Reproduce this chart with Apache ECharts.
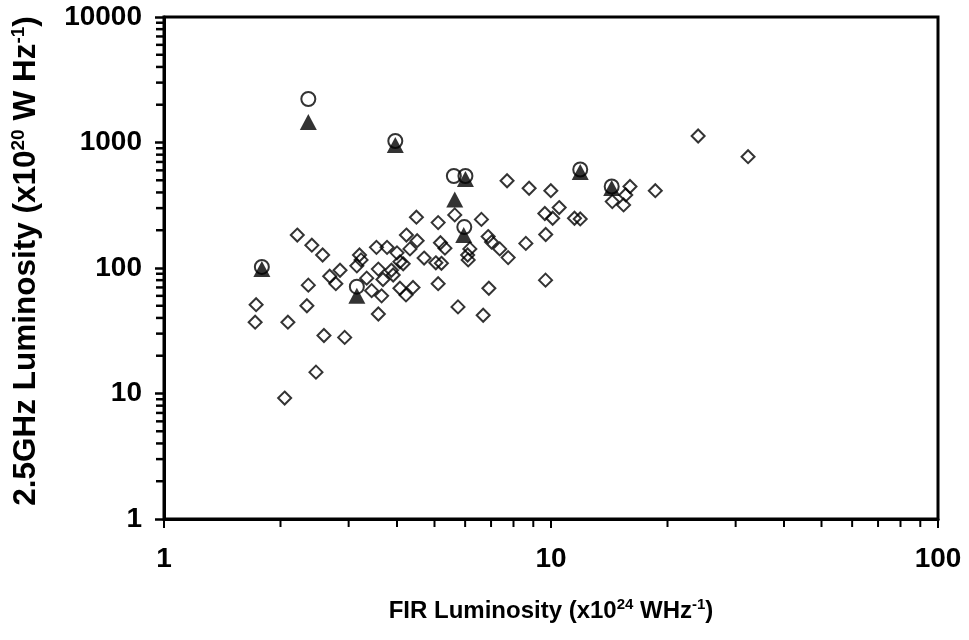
<!DOCTYPE html>
<html>
<head>
<meta charset="utf-8">
<script src="https://cdn.jsdelivr.net/npm/echarts@6/dist/echarts.min.js"></script>
<style>html,body{margin:0;padding:0;background:#fff;}#chart{width:969px;height:640px;}</style>
</head>
<body>
<div id="chart"></div>
<script>
// FIR luminosity (x10^24 W/Hz) and 2.5GHz luminosity (x10^20 W/Hz)
var diamondX = [2.21,2.41,2.57,2.68,2.85,2.78,2.36,1.73,2.34,1.72,2.09,2.59,2.93,2.47,2.05,
  3.15,3.20,3.23,3.34,3.44,3.54,3.58,3.58,3.65,3.68,3.77,3.87,3.91,4.00,4.07,4.15,4.07,4.22,4.23,4.32,4.40,
  4.49,4.51,4.70,5.04,5.11,5.11,5.18,5.21,5.32,5.64,5.75,6.09,6.11,6.17,6.61,6.68,6.91,6.88,7.02,7.37,7.75,
  7.70,8.61,8.78,9.64,9.69,9.68,9.99,10.1,10.5,11.5,11.9,14.4,15.4,15.6,16.0,18.6,24.0,32.3];
var diamondY = [183,152,127,86,96,75,73,51,50,37,37,29,28,14.8,9.2,
  104,127,116,83,66,146,98,43,60,81,146,96,88,132,112,108,69,61,183,142,70,
  254,165,120,110,230,75,159,109,144,265,49,127,116,142,244,42,69,178,161,142,121,
  496,157,432,272,185,80,413,249,303,249,246,338,318,382,446,413,1127,771];
var circleX = [1.79,2.36,3.96,3.15,5.61,6.01,5.97,11.9,14.35];
var circleY = [102,2221,1028,71,541,541,212,609,446];
var triangleX = [1.79,2.36,3.96,3.15,5.64,6.01,5.95,11.9,14.35];
var triangleY = [98,1457,955,60,351,512,183,582,434];
var xMajorTicks = [1,10,100];
var yMajorTicks = [1,10,100,1000,10000];

function zip(a,b){ return a.map(function(v,i){ return [v,b[i]]; }); }
function minorValues(majors){
  var out=[];
  for(var i=0;i<majors.length-1;i++){ for(var k=2;k<=9;k++){ out.push(majors[i]*k); } }
  return out;
}
var xMinorData = minorValues(xMajorTicks).map(function(v){ return [v, yMajorTicks[0]]; });
var yMinorData = minorValues(yMajorTicks).map(function(v){ return [xMajorTicks[0], v]; });

var FONT = 'Liberation Sans, Arial, sans-serif';
function plain(v){ return String(Math.round(v)); }
var chart = echarts.init(document.getElementById('chart'), null, {renderer:'canvas'});
chart.setOption({
  backgroundColor:'#fff',
  animation:false,
  grid:{left:164,right:31,top:17,bottom:121,show:true,borderColor:'#000',borderWidth:3,containLabel:false},
  xAxis:{
    type:'log', logBase:10, min:1, max:100,
    name:'{b|FIR Luminosity (x10}{s|24}{b| WHz}{s|-1}{b|)}',
    nameLocation:'middle', nameGap:78,
    nameTextStyle:{rich:{
      b:{fontFamily:FONT,fontWeight:'bold',fontSize:24,color:'#000',lineHeight:28},
      s:{fontFamily:FONT,fontWeight:'bold',fontSize:15,color:'#000',verticalAlign:'top',lineHeight:28,padding:[0,0,11,0]}
    }},
    axisLine:{show:true,lineStyle:{color:'#000',width:3}},
    axisTick:{show:true,inside:false,length:9,lineStyle:{color:'#000',width:2}},
    axisLabel:{margin:26,fontFamily:FONT,fontWeight:'bold',fontSize:28,color:'#000',formatter:plain},
    splitLine:{show:false}
  },
  yAxis:{
    type:'log', logBase:10, min:1, max:10000,
    name:'{b|2.5GHz Luminosity (x10}{s|20}{b| W Hz}{s|-1}{b|)}',
    nameLocation:'middle', nameGap:121, nameRotate:90,
    nameTextStyle:{padding:[0,0,0,14],rich:{
      b:{fontFamily:FONT,fontWeight:'bold',fontSize:31.5,color:'#000',lineHeight:34},
      s:{fontFamily:FONT,fontWeight:'bold',fontSize:19,color:'#000',verticalAlign:'top',lineHeight:34,padding:[0,0,13,0]}
    }},
    axisLine:{show:true,lineStyle:{color:'#000',width:3}},
    axisTick:{show:true,inside:false,length:9,lineStyle:{color:'#000',width:2.5}},
    axisLabel:{margin:22,fontFamily:FONT,fontWeight:'bold',fontSize:28,color:'#000',formatter:plain},
    splitLine:{show:false}
  },
  series:[
    {type:'custom', clip:false, silent:true, data:xMinorData, z:1,
     renderItem:function(params,api){
       var p=api.coord([api.value(0),api.value(1)]);
       return {type:'line',shape:{x1:p[0],y1:p[1],x2:p[0],y2:p[1]+8},style:{stroke:'#000',lineWidth:2}};
     }},
    {type:'custom', clip:false, silent:true, data:yMinorData, z:1,
     renderItem:function(params,api){
       var p=api.coord([api.value(0),api.value(1)]);
       return {type:'line',shape:{x1:p[0]-8,y1:p[1],x2:p[0],y2:p[1]},style:{stroke:'#000',lineWidth:2.5}};
     }},
    {type:'scatter', data:zip(diamondX,diamondY), symbol:'diamond', symbolSize:13, z:2,
     itemStyle:{color:'rgba(255,255,255,0)',borderColor:'#000',borderWidth:2}},
    {type:'scatter', data:zip(circleX,circleY), symbol:'circle', symbolSize:14, z:3,
     itemStyle:{color:'rgba(255,255,255,0)',borderColor:'#000',borderWidth:2}},
    {type:'scatter', data:zip(triangleX,triangleY), symbol:'triangle', symbolSize:[17,16], z:4,
     itemStyle:{color:'#000'}}
  ]
});
</script>
</body>
</html>
